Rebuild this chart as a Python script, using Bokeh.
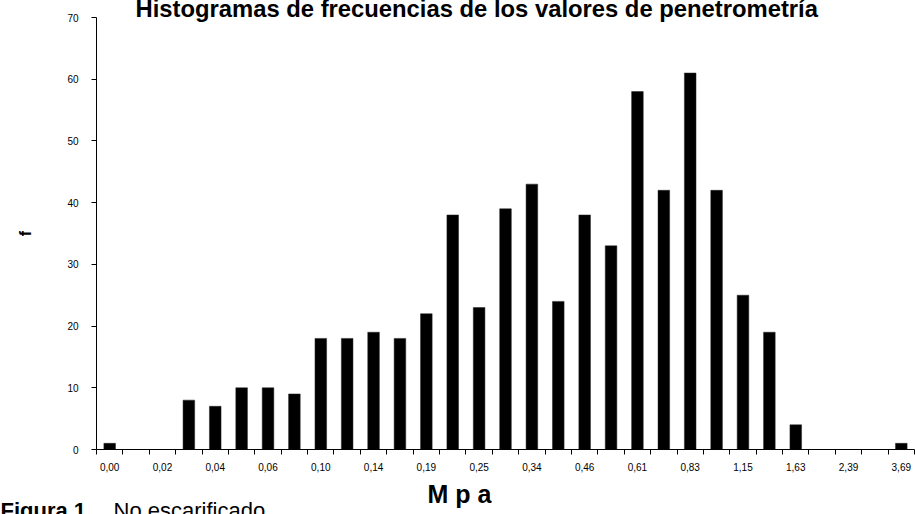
from bokeh.plotting import figure
from bokeh.models import ColumnDataSource, Range1d, FixedTicker, Title
from bokeh.embed import file_html
from bokeh.resources import INLINE

# ---- data ----
bin_labels = ["0,00", "0,02", "0,04", "0,06", "0,10", "0,14", "0,19", "0,25",
              "0,34", "0,46", "0,61", "0,83", "1,15", "1,63", "2,39", "3,69"]
counts = [1, 0, 0, 8, 7, 10, 10, 9, 18, 18, 19, 18, 22, 38, 23, 39,
          43, 24, 38, 33, 58, 42, 61, 42, 25, 19, 4, 0, 0, 0, 1]
y_ticks = [0, 10, 20, 30, 40, 50, 60, 70]

title_text = "Histogramas de frecuencias de los valores de penetrometría"
x_title = "M p a"
y_title = "f"
caption_bold = "Figura 1."
caption_normal = "No escarificado"

idx = list(range(len(counts)))
src = ColumnDataSource(data=dict(x=idx, top=counts))

FONT = "Liberation Sans"

p = figure(width=915, height=514, output_backend="svg", toolbar_location=None,
           x_range=Range1d(-0.5, len(counts) - 0.5), y_range=Range1d(0, 70),
           min_border_left=96, min_border_right=1, min_border_top=17,
           min_border_bottom=65)
p.outline_line_color = None
p.xgrid.visible = False
p.ygrid.visible = False
p.background_fill_color = "white"
p.border_fill_color = "white"

p.vbar(x="x", top="top", width=0.44, source=src,
       fill_color="black", line_color="#222222", line_width=0.5)

xa = p.xaxis[0]
xa.ticker = FixedTicker(ticks=list(range(0, len(counts), 2)),
                        minor_ticks=[i - 0.5 for i in range(len(counts) + 1)])
xa.major_label_overrides = {i * 2: lab for i, lab in enumerate(bin_labels)}
xa.major_tick_out = 0
xa.major_tick_in = 0
xa.minor_tick_out = 5
xa.minor_tick_in = 0
xa.minor_tick_line_color = "black"
xa.axis_line_color = "black"
xa.major_label_text_font = FONT
xa.major_label_text_font_size = "10px"
xa.major_label_text_color = "black"
xa.major_label_standoff = 8

ya = p.yaxis[0]
ya.ticker = FixedTicker(ticks=y_ticks)
ya.major_tick_out = 5
ya.major_tick_in = 0
ya.minor_tick_line_color = None
ya.axis_line_color = "black"
ya.major_tick_line_color = "black"
ya.major_label_text_font = FONT
ya.major_label_text_font_size = "10px"
ya.major_label_text_color = "black"
ya.major_label_standoff = 13
ya.axis_label = y_title
ya.axis_label_text_font = FONT
ya.axis_label_text_font_size = "16px"
ya.axis_label_text_font_style = "bold"
ya.axis_label_text_color = "black"
ya.axis_label_standoff = 30

# chart title (its top is cut by the edge, as in the reference)
p.add_layout(Title(text=title_text, align="left", offset=39, standoff=-13,
                   vertical_align="top", text_font=FONT, text_font_size="23.8px",
                   text_font_style="bold", text_color="black"), "above")

# x axis title and caption in the bottom panel
p.add_layout(Title(text=x_title, align="left", offset=331, standoff=8,
                   vertical_align="bottom", text_font=FONT, text_font_size="25px",
                   text_font_style="bold", text_color="black"), "below")
p.add_layout(Title(text=caption_bold, align="left", offset=-96, standoff=-27,
                   vertical_align="top", text_font=FONT, text_font_size="22px",
                   text_font_style="bold", text_color="black"), "below")
p.add_layout(Title(text=caption_normal, align="left", offset=17, standoff=-27,
                   vertical_align="top", text_font=FONT, text_font_size="22px",
                   text_font_style="normal", text_color="black"), "below")

open("out.html", "w").write(file_html(p, INLINE))
